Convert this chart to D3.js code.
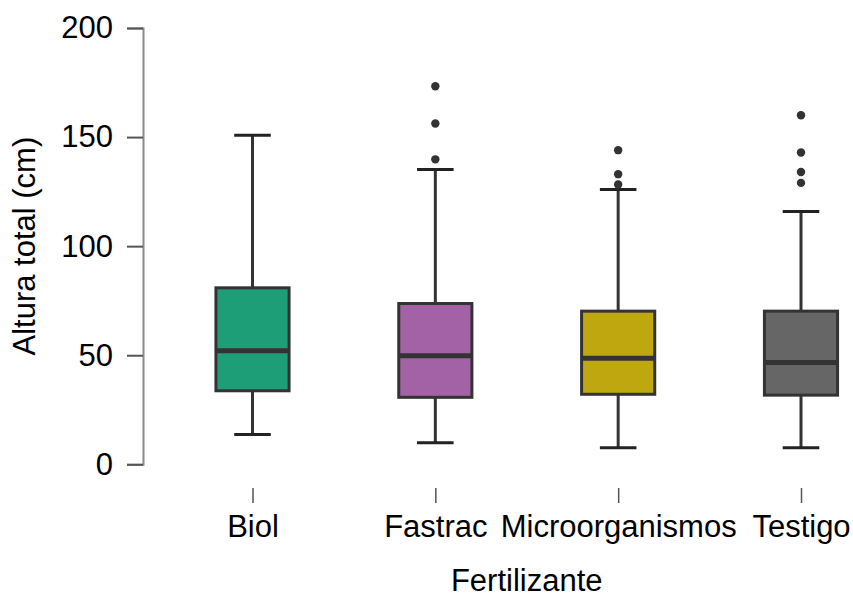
<!DOCTYPE html>
<html><head><meta charset="utf-8">
<script src="https://cdn.jsdelivr.net/npm/d3@7"></script>
<style>body{margin:0;background:#fff}svg{display:block}text{font-family:"Liberation Sans",Arial,sans-serif;fill:#000}</style>
</head><body>
<script>
const categories = ["Biol","Fastrac","Microorganismos","Testigo"];
const lowerWhisker = [13.7, 9.9, 7.6, 7.6];
const q1 = [33.7, 30.7, 32.1, 31.7];
const median = [52, 49.8, 48.6, 46.7];
const q3 = [80.9, 73.7, 70.2, 70.2];
const upperWhisker = [150.8, 135.1, 126, 115.9];
const outliers = [[], [139.8, 156.2, 173.3], [128.3, 133, 144], [129, 134, 142.9, 160]];
const colors = ["#1e9e76", "#a262a5", "#bfa80f", "#666666"];
const yTicks = [0, 50, 100, 150, 200];

const W = 853, H = 598;
const FS = 31;
const svg = d3.select("body").append("svg").attr("width", W).attr("height", H);

const y = d3.scaleLinear().domain([0, 200]).range([464.3, 28]);
const x = d3.scalePoint().domain(categories).range([252.5, 801]);
const boxW = 0.4 * x.step();
const capW = boxW / 2;

// Y axis
const yAxis = svg.append("g").attr("transform", "translate(143,0)")
  .call(d3.axisLeft(y).tickValues(yTicks).tickSize(16).tickPadding(14));
yAxis.select(".domain").attr("stroke", "#8a8a8a").attr("stroke-width", 2);
yAxis.selectAll(".tick line").attr("stroke", "#555").attr("stroke-width", 2);
yAxis.selectAll(".tick text").attr("font-size", FS).attr("font-family", "Liberation Sans, Arial, sans-serif").attr("fill", "#000");

// X axis (ticks only)
const xAxis = svg.append("g").attr("transform", "translate(0,488)")
  .call(d3.axisBottom(x).tickSize(15).tickPadding(12));
xAxis.select(".domain").remove();
xAxis.selectAll(".tick line").attr("stroke", "#555").attr("stroke-width", 1.5);
xAxis.selectAll(".tick text").attr("font-size", FS).attr("font-family", "Liberation Sans, Arial, sans-serif").attr("fill", "#000");

// Axis titles
const xMid = (x.range()[0] + x.range()[1]) / 2;
svg.append("text").attr("x", xMid).attr("y", 591).attr("text-anchor", "middle")
  .attr("font-size", 31).text("Fertilizante");
svg.append("text").attr("transform", `translate(35,${(y(0)+y(200))/2}) rotate(-90)`)
  .attr("text-anchor", "middle").attr("font-size", 31).text("Altura total (cm)");

const data = categories.map((c, i) => ({c, i}));
const g = svg.append("g").selectAll("g").data(data).join("g");
const stroke = "#333333";

// whiskers
g.append("line").attr("x1", d => x(d.c)).attr("x2", d => x(d.c))
  .attr("y1", d => y(q3[d.i])).attr("y2", d => y(upperWhisker[d.i]))
  .attr("stroke", stroke).attr("stroke-width", 3);
g.append("line").attr("x1", d => x(d.c)).attr("x2", d => x(d.c))
  .attr("y1", d => y(q1[d.i])).attr("y2", d => y(lowerWhisker[d.i]))
  .attr("stroke", stroke).attr("stroke-width", 3);
// caps
g.append("line").attr("x1", d => x(d.c) - capW/2).attr("x2", d => x(d.c) + capW/2)
  .attr("y1", d => y(upperWhisker[d.i])).attr("y2", d => y(upperWhisker[d.i]))
  .attr("stroke", "#222").attr("stroke-width", 3);
g.append("line").attr("x1", d => x(d.c) - capW/2).attr("x2", d => x(d.c) + capW/2)
  .attr("y1", d => y(lowerWhisker[d.i])).attr("y2", d => y(lowerWhisker[d.i]))
  .attr("stroke", "#222").attr("stroke-width", 3);
// box
g.append("rect").attr("x", d => x(d.c) - boxW/2).attr("width", boxW)
  .attr("y", d => y(q3[d.i])).attr("height", d => y(q1[d.i]) - y(q3[d.i]))
  .attr("fill", d => colors[d.i]).attr("stroke", stroke).attr("stroke-width", 3);
// median
g.append("line").attr("x1", d => x(d.c) - boxW/2).attr("x2", d => x(d.c) + boxW/2)
  .attr("y1", d => y(median[d.i])).attr("y2", d => y(median[d.i]))
  .attr("stroke", stroke).attr("stroke-width", 5);
// outliers
g.selectAll("circle").data(d => outliers[d.i].map(v => ({c: d.c, v}))).join("circle")
  .attr("cx", d => x(d.c)).attr("cy", d => y(d.v)).attr("r", 4.2).attr("fill", stroke);
</script>
</body></html>
